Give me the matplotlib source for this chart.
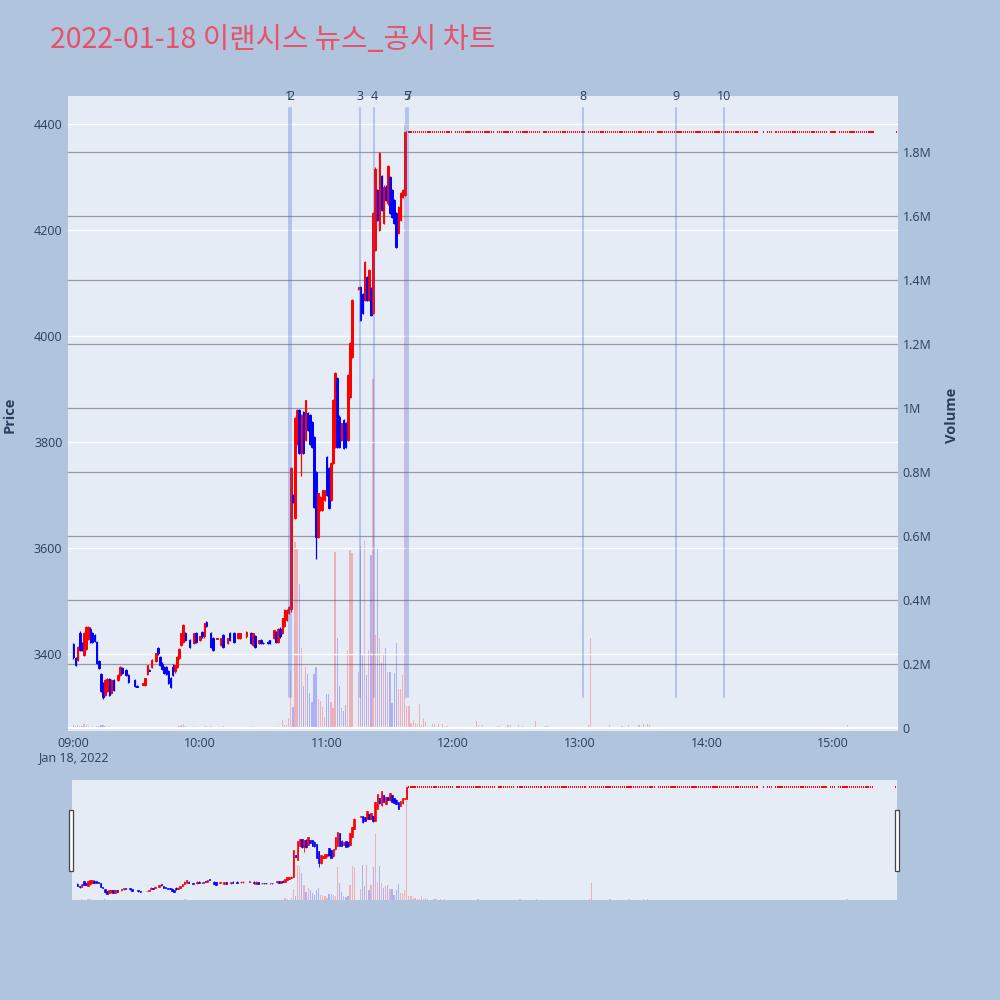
import matplotlib
matplotlib.use('Agg')
import matplotlib.pyplot as plt
import matplotlib.transforms as mtransforms
from matplotlib.patches import Rectangle

plt.rcParams['font.family'] = ['Open Sans', 'Noto Sans CJK KR', 'DejaVu Sans']

chart_title = '2022-01-18 이랜시스 뉴스_공시 차트'

# candle times are minutes after 09:00
minute = [0, 1, 2, 3, 4, 5, 6, 7, 8, 9, 10, 11, 12, 13, 14, 15, 16, 17, 18, 19,
          21, 22, 23, 25, 26, 29, 30, 33, 34, 35, 36, 37, 39, 40, 41, 42, 43, 44, 45, 46,
          47, 48, 49, 50, 51, 52, 53, 55, 57, 58, 60, 61, 62, 63, 65, 66, 68, 70, 71, 73,
          74, 76, 78, 79, 82, 84, 85, 86, 88, 89, 90, 92, 93, 95, 96, 97, 98, 99, 100, 101,
          102,
          103, 104, 105, 106, 107, 108, 109, 110, 111, 112, 113, 114, 115, 116, 117, 118, 119, 120, 121, 122,
          123, 124, 125, 126, 127, 128, 129, 130, 131, 132,
          135, 136, 137, 138, 139, 140, 141, 142, 143, 144, 145, 146, 147, 148, 149, 150, 151, 152, 153, 154,
          155, 156, 157]

open_ = [3418, 3392, 3389, 3440, 3420, 3398, 3410, 3428, 3448, 3440, 3435, 3423, 3386, 3362, 3345, 3322, 3330, 3352, 3326, 3350,
         3351, 3360, 3373, 3370, 3360, 3351, 3340, 3342, 3342, 3362, 3370, 3376, 3386, 3411, 3395, 3382, 3376, 3376, 3368, 3355,
         3375, 3367, 3376, 3393, 3417, 3423, 3439, 3426, 3420, 3439, 3426, 3442, 3433, 3461, 3439, 3430, 3429, 3417, 3436, 3420,
         3439, 3439, 3430, 3430, 3433, 3439, 3417, 3433, 3420, 3426, 3421, 3423, 3426, 3430, 3442, 3423, 3448, 3439, 3452, 3464,
         3477,
         3485, 3700, 3656, 3797, 3860, 3780, 3857, 3804, 3854, 3850, 3838, 3810, 3744, 3621, 3672, 3672, 3690, 3772, 3750, 3690,
         3760, 3791, 3920, 3848, 3804, 3842, 3835, 3804, 3885, 3961,
         4088, 4093, 4080, 4068, 4112, 4068, 4090, 4043, 4162, 4276, 4200, 4301, 4213, 4282, 4250, 4300, 4276, 4257, 4232, 4194,
         4219, 4263, 4266]

high = [3420, 3395, 3416, 3443, 3422, 3442, 3452, 3452, 3450, 3442, 3437, 3425, 3388, 3364, 3347, 3352, 3354, 3354, 3352, 3352,
        3362, 3378, 3375, 3372, 3362, 3353, 3341, 3346, 3355, 3380, 3371, 3390, 3402, 3413, 3397, 3384, 3378, 3378, 3370, 3357,
        3382, 3380, 3396, 3411, 3440, 3456, 3441, 3428, 3440, 3441, 3434, 3444, 3459, 3463, 3441, 3432, 3431, 3431, 3438, 3431,
        3441, 3441, 3440, 3440, 3443, 3441, 3440, 3435, 3427, 3428, 3422, 3424, 3427, 3446, 3444, 3449, 3450, 3468, 3484, 3484,
        3490,
        3752, 3702, 3848, 3862, 3862, 3852, 3859, 3880, 3856, 3852, 3840, 3812, 3746, 3704, 3698, 3710, 3710, 3774, 3752, 3762,
        3882, 3932, 3922, 3850, 3836, 3844, 3837, 3928, 3988, 4070,
        4093, 4095, 4082, 4142, 4114, 4127, 4092, 4234, 4318, 4278, 4347, 4303, 4284, 4284, 4322, 4302, 4278, 4259, 4234, 4246,
        4272, 4277, 4385]

low = [3390, 3378, 3386, 3405, 3406, 3396, 3408, 3426, 3421, 3421, 3423, 3381, 3371, 3328, 3316, 3320, 3328, 3321, 3324, 3330,
       3349, 3358, 3362, 3358, 3346, 3338, 3337, 3341, 3340, 3360, 3367, 3374, 3384, 3399, 3377, 3370, 3363, 3361, 3343, 3335,
       3358, 3365, 3374, 3391, 3415, 3421, 3424, 3412, 3418, 3421, 3424, 3431, 3431, 3450, 3412, 3406, 3428, 3415, 3412, 3418,
       3424, 3421, 3428, 3428, 3431, 3418, 3415, 3412, 3418, 3419, 3419, 3419, 3419, 3428, 3421, 3421, 3431, 3437, 3450, 3462,
       3475,
       3480, 3685, 3654, 3795, 3777, 3735, 3777, 3802, 3820, 3795, 3788, 3676, 3580, 3619, 3670, 3670, 3688, 3698, 3673, 3688,
       3758, 3789, 3789, 3789, 3802, 3786, 3788, 3802, 3883, 3959,
       4087, 4028, 4041, 4066, 4066, 4066, 4038, 4041, 4160, 4217, 4198, 4236, 4211, 4255, 4248, 4230, 4223, 4211, 4166, 4192,
       4217, 4261, 4264]

close = [3395, 3380, 3414, 3408, 3408, 3440, 3450, 3450, 3423, 3423, 3425, 3383, 3373, 3330, 3318, 3350, 3352, 3323, 3350, 3332,
         3360, 3376, 3364, 3360, 3348, 3340, 3338, 3345, 3354, 3379, 3368, 3389, 3401, 3401, 3379, 3372, 3365, 3363, 3345, 3337,
         3360, 3379, 3395, 3410, 3439, 3455, 3426, 3414, 3439, 3423, 3433, 3433, 3458, 3452, 3414, 3408, 3430, 3430, 3414, 3430,
         3426, 3423, 3439, 3439, 3442, 3420, 3439, 3414, 3426, 3420, 3420, 3420, 3420, 3445, 3423, 3448, 3433, 3467, 3483, 3483,
         3488,
         3750, 3687, 3845, 3860, 3779, 3850, 3779, 3879, 3822, 3797, 3790, 3678, 3620, 3703, 3697, 3709, 3709, 3700, 3675, 3760,
         3880, 3930, 3791, 3791, 3835, 3788, 3790, 3926, 3986, 4068,
         4092, 4030, 4043, 4140, 4068, 4125, 4040, 4232, 4316, 4219, 4345, 4238, 4282, 4257, 4320, 4232, 4225, 4213, 4168, 4244,
         4270, 4275, 4385]

volume = [8000, 6000, 9000, 7000, 5000, 12000, 9000, 6000, 4000, 5000, 3000, 7000, 6000, 9000, 8000, 5000, 4000, 6000, 3000, 4000,
          2000, 3000, 2000, 2000, 3000, 2000, 1000, 2000, 3000, 4000, 2000, 3000, 2000, 4000, 3000, 2000, 3000, 2000, 4000, 3000,
          2000, 2000, 3000, 5000, 9000, 11000, 6000, 4000, 5000, 3000, 4000, 3000, 7000, 5000, 6000, 4000, 2000, 3000, 5000, 2000,
          3000, 2000, 3000, 2000, 4000, 3000, 5000, 2000, 2000, 3000, 1000, 2000, 2000, 4000, 3000, 5000, 3000, 25000, 10000, 8000,
          30000,
          180000, 66000, 580000, 560000, 450000, 250000, 130000, 190000, 170000, 110000, 80000, 170000, 190000, 90000, 85000,
          66000, 34000, 106000, 106000, 82000,
          62000, 550000, 282000, 131000, 62000, 54000, 73000, 244000, 556000, 547000,
          175000, 569000, 231000, 584000, 166000, 244000, 541000, 1090000, 291000, 558000, 280000, 202000, 228000, 249000,
          176000, 176000, 77000, 171000, 267000, 121000,
          121000, 166000, 1890000]

# from 11:38 the stock sits at the upper limit, one-price candles
limit_price = 4385
flat_start = [158, 181, 201, 210, 223, 244, 277, 319, 327, 329, 333, 359, 363, 390]
flat_end = [179, 199, 208, 221, 242, 275, 318, 324, 327, 331, 357, 361, 379, 390]
late_vol_minute = [158, 159, 160, 161, 162, 163, 164, 165, 166, 167, 168, 170, 171, 173, 175, 177,
                   191, 192, 194, 201, 202, 206, 207, 211, 213, 219, 224, 225,
                   244, 245, 254, 260, 263, 268, 270, 272, 273, 367, 374, 377]
late_vol = [69000, 69000, 15000, 25000, 15000, 13000, 74000, 10000, 32000, 19000, 3000, 13000, 12000, 12000, 12000, 5000,
            21000, 8000, 8000, 6000, 6000, 8000, 8000, 9000, 6000, 22000, 6000, 6000,
            10000, 280000, 10000, 5000, 10000, 8000, 12000, 12000, 8000, 10000, 4000, 3000]

# news / disclosure markers
event_minute = [102, 103, 136, 142.4, 157.8, 158.5, 241.5, 285.5, 308.4]
event_label = ['1', '2', '3', '4', '5', '7', '8', '9', '10']

xtick_minute = [0, 60, 120, 180, 240, 300, 360]
xtick_label = ['09:00\nJan 18, 2022', '10:00', '11:00', '12:00', '13:00', '14:00', '15:00']
price_ticks = [3400, 3600, 3800, 4000, 4200, 4400]
vol_ticks = [0, 200000, 400000, 600000, 800000, 1000000, 1200000, 1400000, 1600000, 1800000]
vol_tick_labels = ['0', '0.2M', '0.4M', '0.6M', '0.8M', '1M', '1.2M', '1.4M', '1.6M', '1.8M']

UP = '#ff0000'
DOWN = '#0000ff'
UP_VOL = (1.0, 0.0, 0.0, 0.25)
DOWN_VOL = (0.0, 0.0, 1.0, 0.25)
FIG_BG = '#b0c4de'
PLOT_BG = '#e5ecf6'
TEXT = '#2a3f5f'

XLIM = (-2.6, 390.8)
PRICE_LIM = (3254.7, 4452.8)
VOL_LIM = (-9400, 1975000)

# join traded candles with the limit-price minutes
flat_minutes = []
for s, e in zip(flat_start, flat_end):
    flat_minutes += list(range(s, e + 1))
late = dict(zip(late_vol_minute, late_vol))

t = minute + flat_minutes
o = open_ + [limit_price] * len(flat_minutes)
h = high + [limit_price] * len(flat_minutes)
l = low + [limit_price] * len(flat_minutes)
c = close + [limit_price] * len(flat_minutes)
v = volume + [late.get(m, 0) for m in flat_minutes]

# flat candles keep the colour of the one before
is_up = []
prev = True
for oo, cc in zip(o, c):
    if cc > oo:
        prev = True
    elif cc < oo:
        prev = False
    is_up.append(prev)
cols = [UP if u else DOWN for u in is_up]
vcols = [UP_VOL if u else DOWN_VOL for u in is_up]

moving = [i for i in range(len(t)) if o[i] != c[i]]
still = [i for i in range(len(t)) if o[i] == c[i]]


def draw_series(axp, axv, body_lw, wick_lw, dot_lw):
    axv.bar(t, v, width=0.6, color=vcols, linewidth=0)
    axp.vlines(t, l, h, colors=cols, lw=wick_lw)
    axp.bar([t[i] for i in moving], [abs(o[i] - c[i]) for i in moving],
            bottom=[min(o[i], c[i]) for i in moving], width=0.75,
            color=[cols[i] for i in moving], edgecolor=[cols[i] for i in moving],
            linewidth=body_lw)
    # one-price minutes show as short red dashes
    axp.hlines([c[i] for i in still], [t[i] - 0.3 for i in still], [t[i] + 0.3 for i in still],
               colors=[cols[i] for i in still], lw=dot_lw)


fig = plt.figure(figsize=(10, 10), dpi=100, facecolor=FIG_BG)

ax = fig.add_axes([0.068, 0.269, 0.83, 0.635])
ax2 = ax.twinx()
ax.set_zorder(ax2.get_zorder() + 1)
ax.patch.set_visible(False)
ax2.patch.set_visible(True)
ax2.patch.set_facecolor(PLOT_BG)

draw_series(ax, ax2, 0.7, 0.9, 1.4)

ax.set_xlim(*XLIM)
ax.set_ylim(*PRICE_LIM)
ax2.set_ylim(*VOL_LIM)

ax.set_yticks(price_ticks)
ax.set_yticklabels([str(p) for p in price_ticks])
ax2.set_yticks(vol_ticks)
ax2.set_yticklabels(vol_tick_labels)
ax.set_xticks(xtick_minute)
ax.set_xticklabels(xtick_label)

ax.grid(False)
ax.yaxis.grid(True, color='white', lw=1.0)
ax.set_axisbelow(True)
ax2.yaxis.grid(True, color='#9a9aa0', lw=0.9)
ax2.set_axisbelow(True)
ax2.axhline(0, color='white', lw=1.6, zorder=1)

for a in (ax, ax2):
    for sp in a.spines.values():
        sp.set_visible(False)
ax.tick_params(axis='y', length=0, pad=4, labelsize=9, labelcolor=TEXT)
ax.tick_params(axis='x', length=0, pad=4, labelsize=9, labelcolor=TEXT)
ax2.tick_params(axis='y', length=0, pad=3.5, labelsize=9, labelcolor=TEXT)

# news / disclosure lines with their numbers on the top edge
trans = mtransforms.blended_transform_factory(ax.transData, ax.transAxes)
for m, lab in zip(event_minute, event_label):
    ax.axvline(m, ymin=0.0535, ymax=0.981, color='royalblue', alpha=0.4, lw=1.1, zorder=5)
    ax.text(m, 1.0, lab, transform=trans, ha='center', va='center',
            fontsize=9, color=TEXT, clip_on=False)

fig.text(0.01, 0.585, 'Price', rotation=90, ha='center', va='center',
         fontsize=10.5, fontweight='bold', color=TEXT)
fig.text(0.952, 0.585, 'Volume', rotation=90, ha='center', va='center',
         fontsize=10.5, fontweight='bold', color=TEXT)

fig.text(0.05, 0.96, chart_title, ha='left', va='center', fontsize=20.6,
         color='#e8516a', family=['Noto Sans CJK KR', 'DejaVu Sans'])

# range slider below the chart
sax = fig.add_axes([0.072, 0.10, 0.825, 0.12])
sax2 = sax.twinx()
sax.set_zorder(sax2.get_zorder() + 1)
sax.patch.set_visible(False)
sax2.patch.set_visible(True)
sax2.patch.set_facecolor(PLOT_BG)
draw_series(sax, sax2, 0.5, 0.6, 1.4)
sax.set_xlim(*XLIM)
sax.set_ylim(*PRICE_LIM)
sax2.set_ylim(0, VOL_LIM[1])
for a in (sax, sax2):
    a.set_xticks([])
    a.set_yticks([])
    for sp in a.spines.values():
        sp.set_visible(False)

for hx in (0.0688, 0.8948):
    fig.add_artist(Rectangle((hx, 0.129), 0.0042, 0.061, transform=fig.transFigure,
                             facecolor='white', edgecolor='#444444', lw=0.9))

fig.savefig('out.png', dpi=100, facecolor=FIG_BG)
